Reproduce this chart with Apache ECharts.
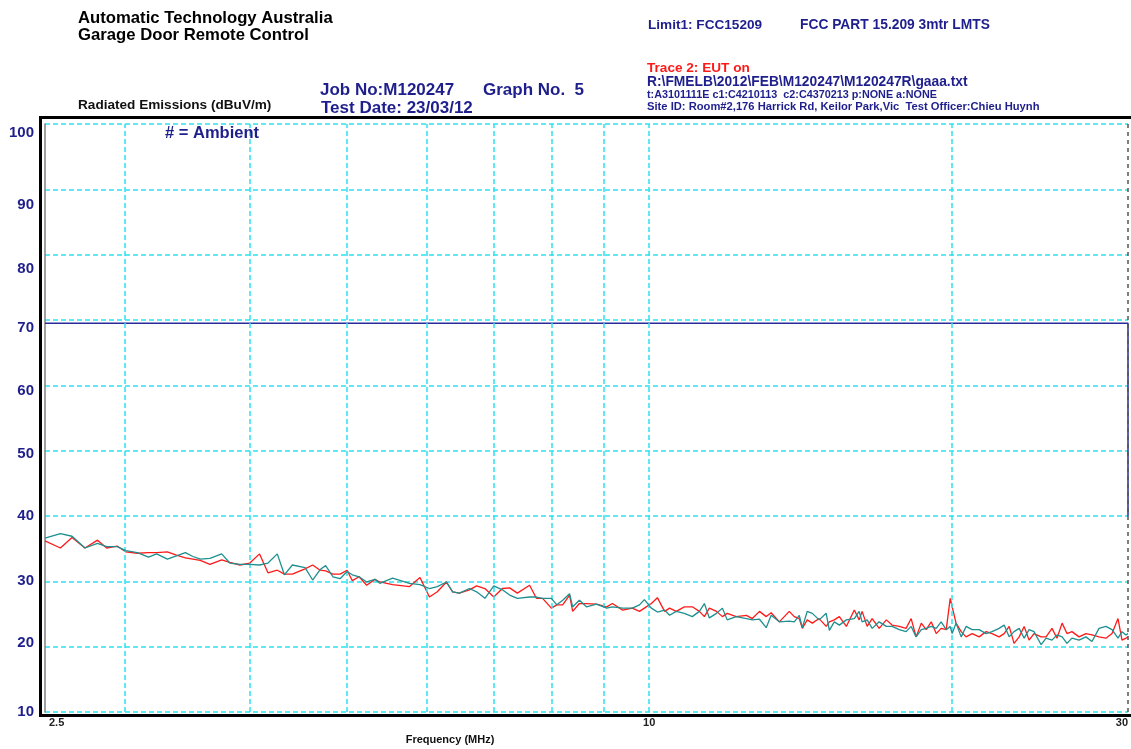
<!DOCTYPE html>
<html><head><meta charset="utf-8">
<script src="https://cdn.jsdelivr.net/npm/echarts@6/dist/echarts.min.js"></script>
<style>html,body{margin:0;padding:0;background:#fff}#c{width:1131px;height:749px}</style>
</head><body><div id="c"></div>
<script>
// Sweep frequencies (MHz)
var freq = [2.50,2.59,2.66,2.74,2.82,2.88,2.95,3.01,3.09,3.17,3.23,3.31,3.38,3.45,3.51,3.57,3.65,3.75,3.82,3.91,4.00,4.09,4.17,4.26,4.33,4.41,4.54,4.62,4.70,4.76,4.84,4.92,5.00,5.06,5.14,5.23,5.33,5.39,
5.55,5.77,5.91,6.04,6.15,6.28,6.37,6.47,6.62,6.73,6.86,7.00,7.14,7.26,7.39,7.60,7.72,7.83,7.99,8.09,8.20,8.33,8.39,8.52,8.66,8.86,9.07,9.19,9.41,9.62,9.78,9.89,10.05,10.19,10.36,10.48,10.64,10.84,11.04,11.22,11.35,11.48,11.67,11.83,11.96,12.21,
12.50,12.67,12.88,13.08,13.23,13.48,13.79,13.95,14.11,14.21,14.37,14.54,14.77,15.01,15.12,15.29,15.47,15.72,16.01,16.19,16.30,16.49,16.68,16.95,17.23,17.46,17.75,18.03,18.24,18.45,18.67,18.88,19.10,19.32,19.54,19.77,19.95,20.04,20.22,20.46,20.69,20.98,21.32,21.66,21.96,22.32,22.58,22.84,23.10,23.37,23.64,23.91,24.18,24.58,24.86,25.20,25.49,25.79,26.08,26.38,26.81,27.24,27.62,28.07,28.52,28.92,29.32,29.59,29.86,30.00];
// Ambient trace (teal), dBuV/m
var ambient = [36.6,37.3,36.9,35.1,35.8,35.3,35.3,34.7,34.4,33.7,34.2,33.4,33.9,34.4,33.8,33.4,33.5,34.2,32.8,32.6,32.6,32.5,32.8,34.2,31.0,32.5,32.1,30.2,31.8,32.4,30.7,30.4,31.5,31.0,30.7,29.9,30.3,29.7,
30.5,29.7,29.5,28.9,29.2,29.9,28.4,28.2,28.9,28.4,27.4,29.3,28.7,27.9,27.4,27.6,27.6,27.4,27.4,26.4,27.1,28.1,26.1,27.1,26.1,26.5,25.9,26.1,25.9,25.9,26.4,27.2,25.9,25.3,25.6,24.8,25.4,25.1,24.6,25.4,26.6,24.4,25.1,25.9,24.1,24.6,
24.3,24.1,24.2,22.9,24.8,23.8,23.9,23.8,24.8,22.9,25.4,25.1,24.1,25.1,22.5,23.8,23.3,24.1,24.3,25.4,23.8,24.1,22.8,23.8,23.1,23.1,22.6,22.3,23.1,21.5,22.6,22.8,23.1,22.8,23.8,22.6,23.1,22.0,23.6,21.5,23.1,22.6,22.6,22.0,22.3,22.8,23.3,21.5,22.3,22.8,21.3,22.6,22.3,20.3,21.3,21.0,21.8,21.5,20.5,21.3,21.0,21.5,20.8,22.8,23.1,22.6,21.3,22.3,21.8,22.0];
// Trace 2: EUT on (red), dBuV/m
var eutOn = [36.2,35.1,36.7,35.1,36.3,35.1,35.4,34.5,34.3,34.4,34.4,34.5,34.0,33.6,33.4,33.2,32.6,33.3,32.9,32.5,32.8,34.2,31.3,31.7,31.1,31.1,31.9,32.5,31.7,31.6,31.1,31.1,31.7,30.1,30.7,29.4,30.3,29.9,
29.5,29.2,30.6,27.6,28.4,29.9,28.4,28.2,28.7,29.3,28.9,27.6,28.9,29.0,28.2,29.4,27.4,27.4,25.9,26.4,26.4,27.9,25.4,26.6,26.6,26.5,26.1,26.6,25.6,25.9,25.4,25.9,26.6,27.5,25.4,25.9,25.4,26.1,26.1,25.4,24.6,25.9,25.4,24.6,25.1,24.6,
24.8,24.3,25.4,24.6,25.2,23.8,25.4,24.6,24.3,22.8,24.1,23.6,24.3,23.1,23.8,24.1,24.6,23.1,25.6,24.1,25.4,23.1,24.3,22.8,24.1,23.3,23.1,22.8,24.3,21.5,23.6,22.6,23.8,22.0,22.8,22.6,27.4,27.1,23.6,22.3,21.5,22.0,21.5,22.3,22.0,21.5,22.0,23.1,20.5,21.5,23.1,21.0,22.0,21.5,21.5,22.8,21.3,23.6,22.0,22.3,21.5,22.0,21.8,21.5,21.3,22.0,24.3,21.0,21.3,21.5];
// Limit line FCC 15.209
var limitFreq = [2.5, 30, 30];
var limitLevel = [69.5, 69.5, 40];
// Grid frequencies
var gridFreq = [3,4,5,6,7,8,9,10,20];
var yTicks = {min:10, max:100, step:10};

var FONT = '"Liberation Sans", Arial, sans-serif';
var NAVY = '#1e1e8c';
var CYAN = '#2be3ef';
// vertical nudge (px, downward) of each y tick label, as placed in the original plot
var yLabelShift = {100:9, 90:16, 80:14, 70:8, 60:6, 50:3, 40:0, 30:0, 20:-4, 10:0};

function pairs(xs, ys){ return xs.map(function(x,i){ return [x, ys[i]]; }); }

var yRich = {};
Object.keys(yLabelShift).forEach(function(k){
  var d = yLabelShift[k];
  yRich['s'+k] = {fontFamily:FONT, fontWeight:'bold', fontSize:15, color:NAVY,
    padding: d >= 0 ? [2*d,0,0,0] : [0,0,-2*d,0]};
});

var chart = echarts.init(document.getElementById('c'), null, {renderer:'canvas'});
var txt = function(t, x, y, size, color, align){
  return {type:'text', x:x, y:y, silent:true, z:100,
    style:{text:t, font:'bold '+size+'px '+FONT, fill:color, textAlign:align||'left', textVerticalAlign:'middle'}};
};
chart.setOption({
  animation:false,
  backgroundColor:'#fff',
  grid:{left:45, right:2, top:124, bottom:37},
  xAxis:{type:'log', logBase:10, min:2.5, max:30,
    axisLine:{show:false}, axisTick:{show:false}, splitLine:{show:false},
    axisLabel:{show:true, showMinLabel:true, showMaxLabel:true, alignMinLabel:'left', alignMaxLabel:'right',
      margin:5, fontFamily:FONT, fontWeight:'bold', fontSize:11, color:'#222',
      formatter:function(v){ var s = String(Math.round(v*10)/10); return v < 3 ? '{m|' + s + '}' : s; },
      rich:{m:{fontFamily:FONT, fontWeight:'bold', fontSize:11, color:'#222', padding:[0,0,0,4]}}}},
  yAxis:{type:'value', min:yTicks.min, max:yTicks.max, interval:yTicks.step,
    axisLine:{show:true, lineStyle:{color:'#808080', width:1.5}}, axisTick:{show:false},
    axisLabel:{margin:11, fontFamily:FONT, fontWeight:'bold', fontSize:15, color:NAVY, verticalAlign:'middle',
      formatter:function(v){ return '{s' + v + '|' + v + '}'; }, rich:yRich},
    splitLine:{show:true, lineStyle:{color:CYAN, type:[5,3], width:1.5}}},
  series:[
    {name:'Limit', type:'line', data:pairs(limitFreq, limitLevel), symbol:'none', silent:true,
     lineStyle:{color:'#2a2a9a', width:1.5}, z:3,
     markLine:{silent:true, symbol:'none', label:{show:false}, animation:false,
       lineStyle:{color:CYAN, type:[5,3], width:1.5},
       data: gridFreq.map(function(f){ return {xAxis:f}; }).concat([{xAxis:30, lineStyle:{color:'#555', type:[4,4], width:1.5}}])}},
    {name:'EUT on', type:'line', data:pairs(freq, eutOn), symbol:'none', silent:true,
     lineStyle:{color:'#ff1a1a', width:1.3}, z:4},
    {name:'Ambient', type:'line', data:pairs(freq, ambient), symbol:'none', silent:true,
     lineStyle:{color:'#1f8f8f', width:1.3}, z:5}
  ],
  graphic:[
    {type:'rect', silent:true, z:50, shape:{x:40.5, y:117.5, width:1100, height:598},
     style:{fill:'none', stroke:'#000', lineWidth:3}},
    txt('Automatic Technology Australia', 78, 18, 16.7, '#000'),
    txt('Garage Door Remote Control', 78, 35, 16.7, '#000'),
    txt('Radiated Emissions (dBuV/m)', 78, 105, 13.6, '#111'),
    txt('Job No:M120247', 320, 90, 17, NAVY),
    txt('Graph No.  5', 483, 90, 17, NAVY),
    txt('Test Date: 23/03/12', 321, 108, 17, NAVY),
    txt('Limit1: FCC15209', 648, 25, 13.6, NAVY),
    txt('FCC PART 15.209 3mtr LMTS', 800, 25, 13.8, NAVY),
    txt('Trace 2: EUT on', 647, 68, 13.6, '#ff1a1a'),
    txt('R:\\FMELB\\2012\\FEB\\M120247\\M120247R\\gaaa.txt', 647, 82, 13.8, NAVY),
    txt('t:A3101111E c1:C4210113  c2:C4370213 p:NONE a:NONE', 647, 95, 10.8, NAVY),
    txt('Site ID: Room#2,176 Harrick Rd, Keilor Park,Vic  Test Officer:Chieu Huynh', 647, 107, 11.2, NAVY),
    txt('# = Ambient', 165, 133, 16.5, NAVY),
    txt('Frequency (MHz)', 450, 740, 11, '#111', 'center')
  ]
});
</script></body></html>
